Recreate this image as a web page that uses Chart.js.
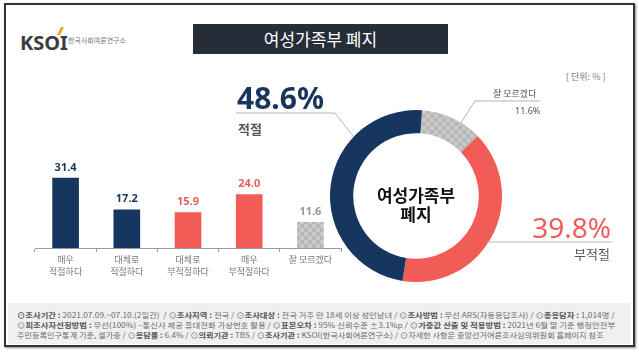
<!DOCTYPE html>
<html>
<head>
<meta charset="utf-8">
<script src="https://cdn.jsdelivr.net/npm/chart.js@4"></script>
<style>
  body { margin: 0; width: 639px; height: 352px; background: #fff; overflow: hidden;
         font-family: "Noto Sans CJK KR", "Noto Sans", sans-serif; }
  #frame { position: absolute; left: 4px; top: 3px; width: 627px; height: 340px;
           border: 2px solid #333; box-shadow: 1px 1px 2px #888; }
  .abs { position: absolute; white-space: nowrap; }
  #title { left: 193px; top: 24px; width: 255px; height: 30px; background: #262d39; color: #fff;
           font-size: 17px; line-height: 30px; text-align: center; }
  #footer { left: 8px; top: 303px; width: 622px; height: 41px; background: #f0f0f0; }
  .fl { position: absolute; left: 17px; font-size: 7.4px; color: #6a6a6a; transform-origin: 0 50%; }
  .fl b { color: #555; }
</style>
</head>
<body>
<div id="frame"></div>

<div class="abs" style="left:20px;top:29px;font:bold 20px 'Noto Sans';color:#3c3c3c;letter-spacing:0px">KSOI</div>
<div class="abs" style="left:59px;top:27px;width:3px;height:8px;background:#f3a21b;transform:skewX(-25deg)"></div>
<div class="abs" style="left:68px;top:35px;font-size:7px;color:#777">한국사회여론연구소</div>

<div id="title" class="abs">여성가족부 폐지</div>
<div class="abs" style="left:566px;top:70px;font-size:9px;color:#777">[ 단위: % ]</div>

<div id="footer" class="abs"></div>
<div class="fl" style="top:309px" id="f1"><b>⊙조사기간 :</b> 2021.07.09.~07.10.(2일간) &nbsp;/ ⊙<b>조사지역 :</b> 전국 / ⊙<b>조사대상 :</b> 전국 거주 만 18세 이상 성인남녀 / ⊙<b>조사방법 :</b> 무선 ARS(자동응답조사) / ⊙<b>총응답자 :</b> 1,014명 /</div>
<div class="fl" style="top:319px" id="f2">⊙<b>피조사자선정방법 :</b> 무선(100%) –통신사 제공 휴대전화 가상번호 활용 / ⊙<b>표본오차 :</b> 95% 신뢰수준 ±3.1%p / ⊙<b>가중값 산출 및 적용방법 :</b> 2021년 6월 말 기준 행정안전부</div>
<div class="fl" style="top:329px" id="f3">주민등록인구통계 기준, 셀가중 / ⊙<b>응답률 :</b> 6.4% / ⊙<b>의뢰기관 :</b> TBS / ⊙<b>조사기관 :</b> KSOI(한국사회여론연구소) / ⊙자세한 사항은 중앙선거여론조사심의위원회 홈페이지 참조</div>

<div class="abs" style="left:0;top:140px;width:360px;height:140px"><canvas id="bar"></canvas></div>
<div class="abs" style="left:330px;top:110px;width:172px;height:172px"><canvas id="donut"></canvas></div>

<svg class="abs" style="left:0;top:0" width="639" height="352">
  <polyline points="236,113 335,113 353,136" fill="none" stroke="#b5b5b5" stroke-width="1"/>
  <polyline points="460,124 475,101 540,101" fill="none" stroke="#b5b5b5" stroke-width="1"/>
  <polyline points="487,242 612,242" fill="none" stroke="#b5b5b5" stroke-width="1"/>
</svg>

<div class="abs" id="lblYes" style="left:237px;top:82px;font:bold 30px 'Noto Sans';color:#17365f;line-height:32px"></div>
<div class="abs" id="nmYes" style="left:238px;top:119px;font-size:13px;font-weight:bold;color:#555"></div>
<div class="abs" id="nmDk" style="left:493px;top:87px;font-size:9px;color:#555"></div>
<div class="abs" id="lblDk" style="left:515px;top:104px;font:9px 'Noto Sans';color:#555"></div>
<div class="abs" id="lblNo" style="right:28px;top:212px;font:28px 'Noto Sans';color:#ec5f5b;line-height:30px"></div>
<div class="abs" id="nmNo" style="right:29px;top:244px;font-size:13px;color:#555"></div>
<div class="abs" style="left:366px;top:185px;width:100px;text-align:center;font-size:17px;font-weight:bold;color:#111;line-height:19px">여성가족부<br>폐지</div>

<script>
const categories = [["매우", "적절하다"], ["대체로", "적절하다"], ["대체로", "부적절하다"], ["매우", "부적절하다"], "잘 모르겠다"];
const values = [31.4, 17.2, 15.9, 24.0, 11.6];
const summaryLabels = ["잘 모르겠다", "부적절", "적절"];
const summaryValues = [11.6, 39.8, 48.6];

const NAVY = '#17365f';
const RED = '#f25c57';

// grey checker pattern for "잘 모르겠다"
function greyPattern() {
  const c = document.createElement('canvas');
  c.width = 8; c.height = 8;
  const g = c.getContext('2d');
  g.fillStyle = '#c9c9c9';
  g.fillRect(0, 0, 8, 8);
  g.fillStyle = '#b6b6b6';
  g.fillRect(0, 0, 4, 4);
  g.fillRect(4, 4, 4, 4);
  return g.createPattern(c, 'repeat');
}
const GREY = greyPattern();

Chart.defaults.font.family = '"Noto Sans CJK KR", "Noto Sans", sans-serif';
Chart.defaults.animation = false;

const barColors = [NAVY, NAVY, RED, RED, GREY];
const labelColors = [NAVY, NAVY, '#e8605c', '#e8605c', '#999'];

const valueLabels = {
  id: 'valueLabels',
  afterDatasetsDraw(chart) {
    const ctx = chart.ctx;
    const meta = chart.getDatasetMeta(0);
    ctx.save();
    ctx.font = 'bold 11px "Noto Sans"';
    ctx.textAlign = 'center';
    ctx.textBaseline = 'bottom';
    meta.data.forEach((bar, i) => {
      ctx.fillStyle = labelColors[i];
      ctx.fillText(values[i].toFixed(1), bar.x, bar.y - 5);
    });
    ctx.restore();
  }
};

new Chart(document.getElementById('bar'), {
  type: 'bar',
  data: {
    labels: categories,
    datasets: [{ data: values, backgroundColor: barColors, barThickness: 26 }]
  },
  options: {
    responsive: true,
    maintainAspectRatio: false,
    layout: { padding: { left: 35, right: 19, top: 19, bottom: 0 } },
    plugins: { legend: { display: false }, tooltip: { enabled: false } },
    scales: {
      y: { display: false, min: 0, max: 40 },
      x: {
        grid: { drawOnChartArea: false, offset: true, tickLength: 4, color: '#999' },
        border: { color: '#999' },
        ticks: { color: '#777', font: { size: 9, lineHeight: 1.33 }, padding: 2 }
      }
    }
  },
  plugins: [valueLabels]
});

new Chart(document.getElementById('donut'), {
  type: 'doughnut',
  data: {
    labels: summaryLabels,
    datasets: [{ data: summaryValues, backgroundColor: [GREY, RED, NAVY], borderWidth: 0 }]
  },
  options: {
    responsive: true,
    maintainAspectRatio: false,
    cutout: '73%',
    rotation: 4,
    plugins: { legend: { display: false }, tooltip: { enabled: false } }
  }
});

document.getElementById('lblYes').textContent = summaryValues[2].toFixed(1) + '%';
document.getElementById('nmYes').textContent = summaryLabels[2];
document.getElementById('lblNo').textContent = summaryValues[1].toFixed(1) + '%';
document.getElementById('nmNo').textContent = summaryLabels[1];
document.getElementById('lblDk').textContent = summaryValues[0].toFixed(1) + '%';
document.getElementById('nmDk').textContent = summaryLabels[0];

// stretch footer lines to the same width as the reference
['f1', 'f2', 'f3'].forEach(id => {
  const el = document.getElementById(id);
  const target = id === 'f3' ? 586 : 598;
  el.style.transform = 'scaleX(' + (target / el.scrollWidth) + ')';
});
</script>
</body>
</html>
